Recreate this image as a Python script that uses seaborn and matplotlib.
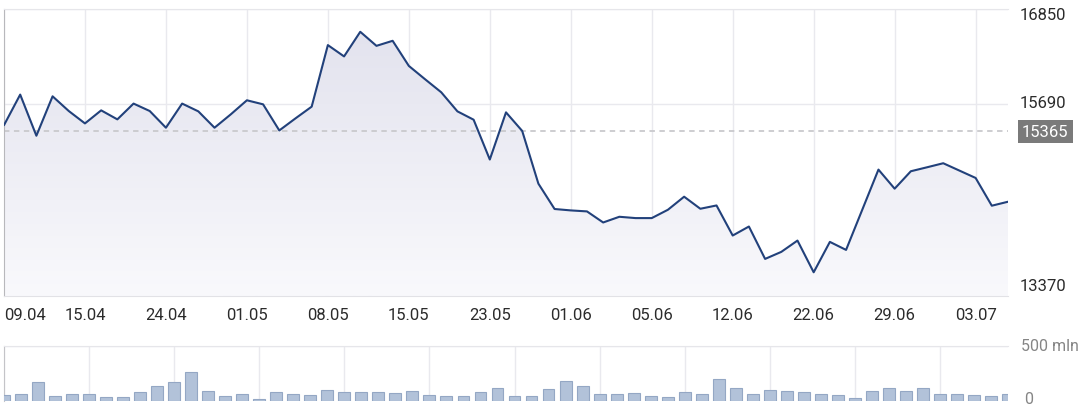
import numpy as np
import pandas as pd
import matplotlib
matplotlib.use("Agg")
import matplotlib.pyplot as plt
from matplotlib.colors import LinearSegmentedColormap
import seaborn as sns

# price series (one point per session)
price = [15438, 15808, 15310, 15787, 15609, 15459, 15617, 15508, 15699, 15609,
         15407, 15699, 15605, 15407, 15568, 15739, 15690, 15374, 15520, 15662,
         16407, 16270, 16568, 16398, 16459, 16155, 15994, 15836, 15605, 15504,
         15022, 15593, 15368, 14730, 14423, 14406, 14394, 14260, 14329, 14313,
         14313, 14414, 14572, 14426, 14466, 14102, 14211, 13819, 13904, 14041,
         13657, 14025, 13928, 14414, 14900, 14669, 14880, 14928, 14977, 14888,
         14799, 14463, 14511]

# volume in mln
volume = [58, 70, 176, 48, 64, 64, 36, 42, 82, 136,
          176, 264, 94, 45, 67, 24, 85, 64, 58, 100,
          85, 82, 88, 79, 94, 55, 48, 48, 82, 121,
          45, 52, 109, 182, 142, 70, 64, 79, 52, 36,
          80, 67, 203, 118, 70, 103, 91, 88, 67, 58,
          30, 97, 118, 94, 121, 70, 64, 61, 48, 67]

date_labels = ["09.04", "15.04", "24.04", "01.05", "08.05", "15.05", "23.05",
               "01.06", "05.06", "12.06", "22.06", "29.06", "03.07"]
y_ticks = [13370, 15690, 16850]
last_close = 15365
vol_top = 500

LINE = "#22417b"
GRID = "#e9e9ee"
TXT = "#2b2b2b"

sns.set_style("white")
plt.rcParams["font.family"] = ["Roboto", "DejaVu Sans"]

W, H = 1084, 406
fig = plt.figure(figsize=(W / 100, H / 100), dpi=100)


def box(l, t, r, b):
    return [l / W, 1 - b / H, (r - l) / W, (b - t) / H]


ax = fig.add_axes(box(4, 9.5, 1008, 297))
axv = fig.add_axes(box(4, 347, 1008, 402.3))

# ---- price panel
n = len(price)
df = pd.DataFrame({"idx": np.arange(n), "price": price})
ymin, ymax = y_ticks[0], y_ticks[-1]

poly = ax.fill_between(df["idx"], df["price"], ymin, color="none", lw=0)
grad = np.linspace(0, 1, 256).reshape(-1, 1)
cmap = LinearSegmentedColormap.from_list("fade", ["#f9f9fc", "#e1e1ed"])
im = ax.imshow(grad, extent=(0, n - 1, ymin, ymax), origin="lower",
               aspect="auto", cmap=cmap, zorder=1)
im.set_clip_path(poly.get_paths()[0], transform=ax.transData)

ax.axhline(last_close, color="#c9c9cd", ls=(0, (3, 2.5)), lw=1.3, zorder=1.5)
sns.lineplot(data=df, x="idx", y="price", ax=ax, color=LINE, lw=1.5, zorder=3)

ax.set_xlim(0, n - 1)
ax.set_ylim(ymin, ymax)
ax.set_xlabel("")
ax.set_ylabel("")

ax.set_xticks(range(0, n, 5))
ax.set_xticklabels(date_labels)
ax.tick_params(axis="x", length=0, pad=8, labelsize=12, labelcolor=TXT)
ax.get_xticklabels()[0].set_ha("left")

ax.set_yticks(y_ticks)
ax.set_yticklabels([])
ax.tick_params(axis="y", length=0)
ax.grid(True, color=GRID, lw=1)
ax.set_axisbelow(True)

label_shift = [10, 2, -6]
for v, dy in zip(y_ticks, label_shift):
    ax.annotate(str(v), xy=(1, v), xycoords=("axes fraction", "data"),
                xytext=(12, dy), textcoords="offset pixels",
                ha="left", va="center", fontsize=12, color=TXT)

ax.annotate(str(last_close), xy=(1, last_close), xycoords=("axes fraction", "data"),
            xytext=(14, 0), textcoords="offset pixels", ha="left", va="center",
            fontsize=12, color="white",
            bbox=dict(boxstyle="square,pad=0.25", fc="#7a7a7a", ec="none"))

ax.spines["right"].set_visible(False)
ax.spines["left"].set_color("#b8b8bc")
ax.spines["top"].set_color("#e6e6ea")
ax.spines["bottom"].set_color("#e2e2e6")

# ---- volume panel
vdf = pd.DataFrame({"i": np.arange(len(volume)), "vol": volume})
sns.barplot(data=vdf, x="i", y="vol", ax=axv, color="#b2c2d9",
            edgecolor="#94a7c4", linewidth=0.8, width=0.7, saturation=1, zorder=3)
axv.set_xlim(0, len(volume) - 1)
axv.set_ylim(0, vol_top)
axv.set_xlabel("")
axv.set_ylabel("")
axv.set_xticks(range(0, len(volume), 5))
axv.set_xticklabels([])
axv.set_yticks([vol_top])
axv.set_yticklabels([])
axv.tick_params(length=0)
axv.grid(True, color=GRID, lw=1)
axv.set_axisbelow(True)
for side in ["right", "bottom"]:
    axv.spines[side].set_visible(False)
axv.spines["top"].set_color("#e6e6ea")
axv.spines["left"].set_color("#c4c4c8")

axv.annotate(f"{vol_top} mln", xy=(1, vol_top), xycoords=("axes fraction", "data"),
             xytext=(13, 0), textcoords="offset pixels", ha="left", va="center",
             fontsize=11.5, color="#858585")
axv.annotate("0", xy=(1, 0), xycoords=("axes fraction", "data"),
             xytext=(16, 3), textcoords="offset pixels", ha="left", va="center",
             fontsize=11.5, color="#858585")

fig.savefig("out.png", dpi=100)
